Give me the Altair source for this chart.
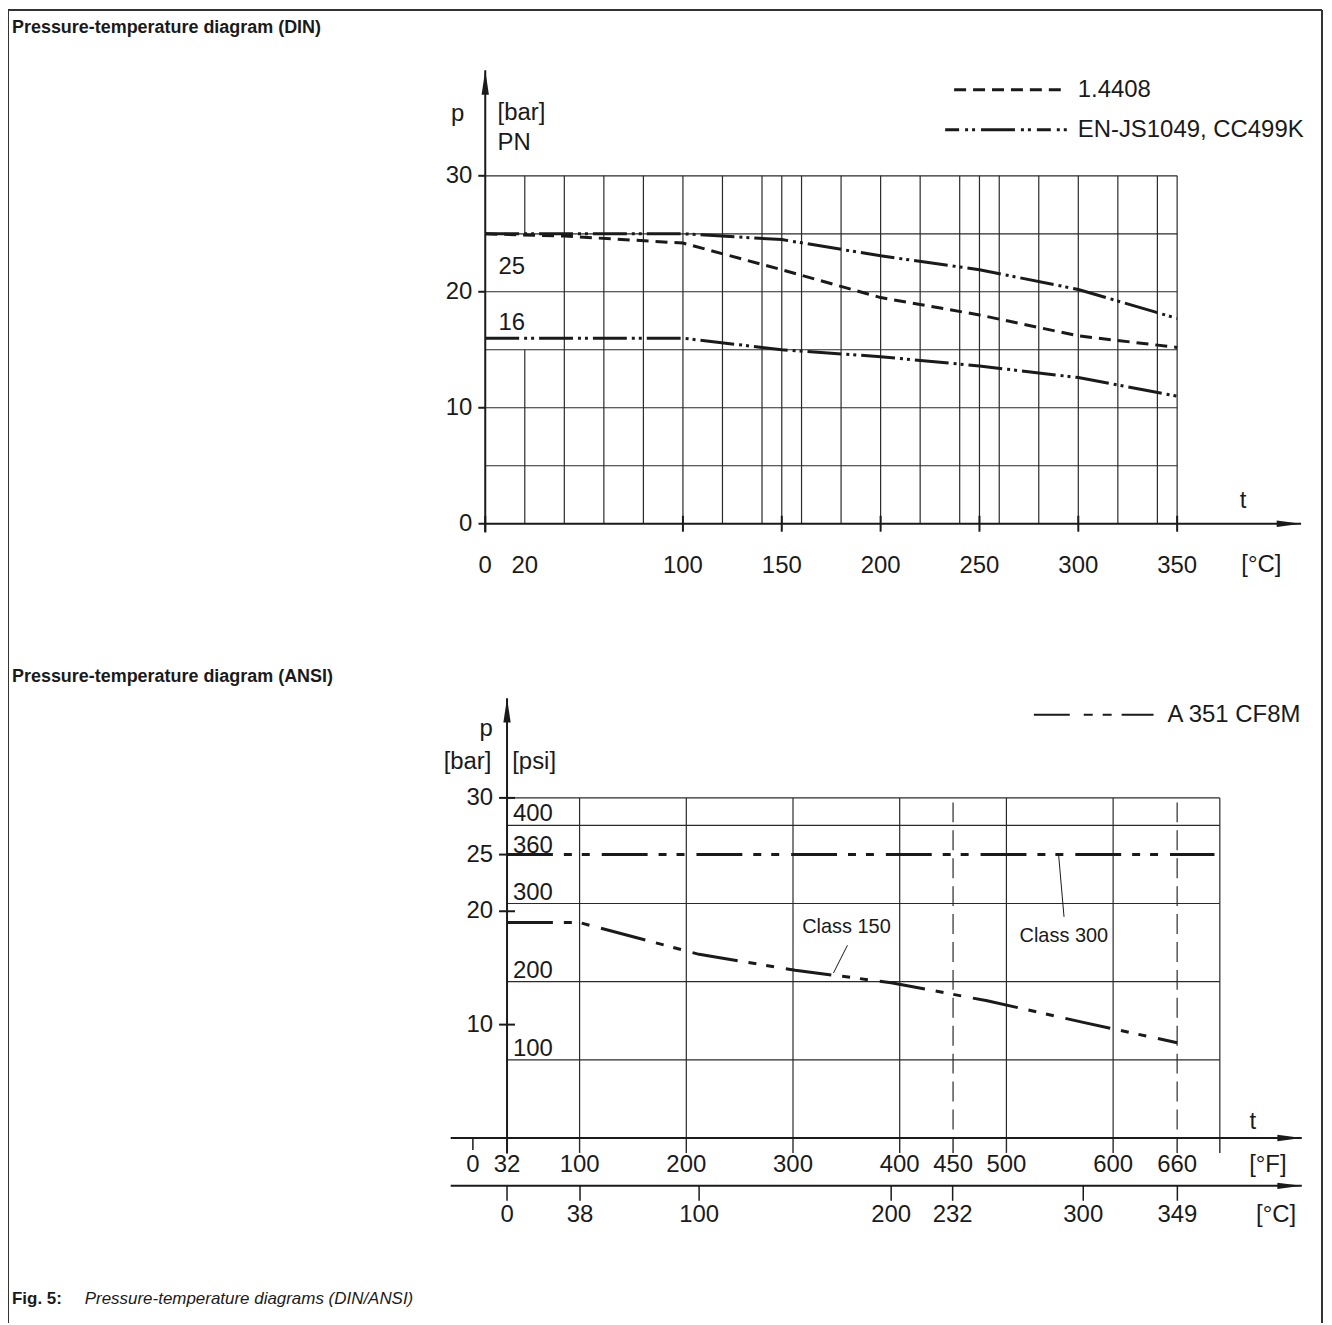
import altair as alt
import pandas as pd

# ---------------- data ----------------
din_title = "Pressure-temperature diagram (DIN)"
ansi_title = "Pressure-temperature diagram (ANSI)"
caption_bold = "Fig. 5:"
caption_text = "Pressure-temperature diagrams (DIN/ANSI)"

# DIN diagram (t in °C, p in bar)
din_hgrid_p = [5, 10, 15, 20, 25, 30]
din_vgrid_t = [20, 40, 60, 80, 100, 120, 140, 150, 160, 180, 200, 220, 240,
               250, 260, 280, 300, 320, 340, 350]
din_xlabel_t = [0, 20, 100, 150, 200, 250, 300, 350]
din_xtick_t = [0, 100, 150, 200, 250, 300, 350]
din_ylabel_p = [0, 10, 20, 30]
din_ytick_p = [10, 20, 30]

din_14408_t = [0, 40, 100, 150, 200, 250, 300, 350]
din_14408_p = [25.0, 24.8, 24.2, 21.9, 19.5, 18.0, 16.2, 15.2]
din_js_t = [0, 100, 150, 200, 250, 300, 350]
din_js_pn25 = [25.0, 25.0, 24.5, 23.1, 21.9, 20.2, 17.7]
din_js_pn16 = [16.0, 16.0, 15.0, 14.4, 13.6, 12.6, 11.0]
din_legend = ["1.4408", "EN-JS1049, CC499K"]
din_pn_labels = ["25", "16"]
din_pn_label_p = [22.1, 17.3]

# ANSI diagram (temperature in °F / °C, p in bar / psi)
PSI_PER_BAR = 14.5038
ansi_hgrid_psi = [100, 200, 300, 400]
ansi_top_bar = 30
ansi_vgrid_F = [100, 200, 300, 400, 500, 600, 700]
ansi_vdash_F = [450, 660]
ansi_F_labels = [0, 32, 100, 200, 300, 400, 450, 500, 600, 660]
ansi_C_labels = [0, 38, 100, 200, 232, 300, 349]
ansi_bar_labels = [10, 20, 25, 30]
ansi_psi_labels = [100, 200, 300, 360, 400]
class150_F = [32, 100, 212, 302, 392, 482, 572, 660]
class150_bar = [19.0, 19.0, 16.2, 14.8, 13.7, 12.1, 10.2, 8.4]
class300_F = [32, 695]
class300_bar = [25.0, 25.0]
ansi_legend = "A 351 CF8M"

# ---------------- style / layout ----------------
FONT = "Liberation Sans"
INK = "#1a1a1a"
GRID = "#2a2a2a"
W, H = 1320, 1317
M = 8  # page margin


def lin_domain(v0, p0, v1, p1, a, b):
    k = (p1 - p0) / (v1 - v0)
    return [v0 + (a + M - p0) / k, v0 + (b + M - p0) / k]


din_xs = alt.Scale(domain=lin_domain(0, 486.7, 350, 1180.7, 0, W), nice=False, zero=False)
din_ys = alt.Scale(domain=lin_domain(0, 523.3, 30, 174.3, H, 0), nice=False, zero=False)
ansi_xs = alt.Scale(domain=lin_domain(0, 474.3, 660, 1180.7, 0, W), nice=False, zero=False)
ansi_ys = alt.Scale(domain=lin_domain(0, 1139.4, 30, 798.3, H, 0), nice=False, zero=False)

UP = "M0,0L0.3,2L-0.3,2Z"
RIGHT = "M0,0L-2,-0.26L-2,0.26Z"
ARROW = 600


def C(d):
    return alt.Chart(pd.DataFrame(d))


def xq(f, sc):
    return alt.X(f"{f}:Q", scale=sc, axis=None)


def yq(f, sc):
    return alt.Y(f"{f}:Q", scale=sc, axis=None)


# ================= DIN =================
xs, ys = din_xs, din_ys
din = []
din.append(C({"p": din_hgrid_p}).transform_calculate(t0="0", t1="350")
           .mark_rule(color=GRID, strokeWidth=1.2)
           .encode(x=xq("t0", xs), x2="t1:Q", y=yq("p", ys)))
vrows = []
for t in din_vgrid_t:
    if t == 20:
        vrows += [(t, 0, 15), (t, 25, 30)]
    else:
        vrows.append((t, 0, 30))
din.append(C({"t": [r[0] for r in vrows], "a": [r[1] for r in vrows], "b": [r[2] for r in vrows]})
           .mark_rule(color=GRID, strokeWidth=1.2)
           .encode(x=xq("t", xs), y=yq("a", ys), y2="b:Q"))
# axes
din.append(C({"z": [0]}).transform_calculate(a="-0.75", b="39.1")
           .mark_rule(color=INK, strokeWidth=2)
           .encode(x=xq("z", xs), y=yq("a", ys), y2="b:Q"))
din.append(C({"z": [0]}).transform_calculate(a="-3.4", b="412.7")
           .mark_rule(color=INK, strokeWidth=2)
           .encode(y=yq("z", ys), x=xq("a", xs), x2="b:Q"))
din.append(C({"p": din_ytick_p}).transform_calculate(z="0")
           .mark_rule(color=INK, strokeWidth=2, xOffset=-7)
           .encode(x=xq("z", xs), x2="z:Q", y=yq("p", ys)))
din.append(C({"t": din_xtick_t}).transform_calculate(z="0")
           .mark_rule(color=INK, strokeWidth=2, yOffset=-8, y2Offset=8)
           .encode(x=xq("t", xs), y=yq("z", ys), y2="z:Q"))
din.append(C({"t": [0], "p": [39.1]})
           .mark_point(shape=UP, size=ARROW, filled=True, color=INK, opacity=1, strokeWidth=0)
           .encode(x=xq("t", xs), y=yq("p", ys)))
din.append(C({"t": [412.7], "p": [0]})
           .mark_point(shape=RIGHT, size=ARROW, filled=True, color=INK, opacity=1, strokeWidth=0)
           .encode(x=xq("t", xs), y=yq("p", ys)))
# tick labels
din.append(C({"p": din_ylabel_p}).transform_calculate(z="0")
           .mark_text(font=FONT, fontSize=24, color=INK, align="right", baseline="middle", dx=-13)
           .encode(x=xq("z", xs), y=yq("p", ys), text="p:Q"))
din.append(C({"t": din_xlabel_t}).transform_calculate(z="0")
           .mark_text(font=FONT, fontSize=24, color=INK, align="center", baseline="middle", dy=42)
           .encode(x=xq("t", xs), y=yq("z", ys), text="t:Q"))
# unit labels
din.append(C({"t": [-14.0, 383.3, 392.6], "p": [35.3, 2.0, -3.6], "s": ["p", "t", "[°C]"]})
           .mark_text(font=FONT, fontSize=24, color=INK, align="center", baseline="middle")
           .encode(x=xq("t", xs), y=yq("p", ys), text="s:N"))
din.append(C({"t": [6.2, 6.2], "p": [35.4, 32.8], "s": ["[bar]", "PN"]})
           .mark_text(font=FONT, fontSize=24, color=INK, align="left", baseline="middle")
           .encode(x=xq("t", xs), y=yq("p", ys), text="s:N"))
din.append(C({"t": [13.4, 13.4], "p": din_pn_label_p, "s": din_pn_labels})
           .mark_text(font=FONT, fontSize=24, color=INK, align="center", baseline="middle")
           .encode(x=xq("t", xs), y=yq("p", ys), text="s:N"))
# curves
JS_DASH = [34, 5, 3, 4, 3, 5]
din.append(C({"t": din_14408_t, "p": din_14408_p})
           .mark_line(color=INK, strokeWidth=3, strokeDash=[12, 7], strokeCap="butt")
           .encode(x=xq("t", xs), y=yq("p", ys)))
js = pd.DataFrame({"t": din_js_t * 2, "p": din_js_pn25 + din_js_pn16,
                   "pn": ["PN25"] * len(din_js_t) + ["PN16"] * len(din_js_t)})
din.append(alt.Chart(js)
           .mark_line(color=INK, strokeWidth=3, strokeDash=JS_DASH, strokeCap="butt")
           .encode(x=xq("t", xs), y=yq("p", ys), detail="pn:N"))
# legend
din.append(C({"s": [din_legend[0]]})
           .mark_rule(color=INK, strokeWidth=3, strokeDash=[12, 7], strokeCap="butt")
           .encode(x=alt.value(949), x2=alt.value(1062), y=alt.value(80)))
din.append(C({"s": [din_legend[1]]})
           .mark_rule(color=INK, strokeWidth=3, strokeDash=[14, 6, 3, 4, 3, 6, 34, 6, 3, 4, 3, 6],
                      strokeCap="butt")
           .encode(x=alt.value(940), x2=alt.value(1062), y=alt.value(120)))
din.append(C({"s": [din_legend[0]]})
           .mark_text(font=FONT, fontSize=24, color=INK, align="left", baseline="middle")
           .encode(x=alt.value(1073), y=alt.value(80), text="s:N"))
din.append(C({"s": [din_legend[1]]})
           .mark_text(font=FONT, fontSize=24, color=INK, align="left", baseline="middle")
           .encode(x=alt.value(1073), y=alt.value(120), text="s:N"))

# ================= ANSI =================
xs, ys = ansi_xs, ansi_ys
ansi = []
hg = pd.DataFrame({"b": [v / PSI_PER_BAR for v in ansi_hgrid_psi] + [ansi_top_bar]})
ansi.append(alt.Chart(hg).transform_calculate(f0="32", f1="700")
            .mark_rule(color=GRID, strokeWidth=1.2)
            .encode(x=xq("f0", xs), x2="f1:Q", y=yq("b", ys)))
ansi.append(C({"F": ansi_vgrid_F}).transform_calculate(a="0", b="30")
            .mark_rule(color=GRID, strokeWidth=1.2)
            .encode(x=xq("F", xs), y=yq("a", ys), y2="b:Q"))
ansi.append(C({"F": ansi_vdash_F}).transform_calculate(a="0", b="29.6")
            .mark_rule(color=GRID, strokeWidth=1.2, strokeDash=[20, 8])
            .encode(x=xq("F", xs), y=yq("b", ys), y2="a:Q"))
# F ticks below axis
ansi.append(C({"F": ansi_vgrid_F + ansi_vdash_F}).transform_calculate(z="0")
            .mark_rule(color=GRID, strokeWidth=1.4, y2Offset=15)
            .encode(x=xq("F", xs), y=yq("z", ys), y2="z:Q"))
ansi.append(C({"F": [0]}).transform_calculate(z="0")
            .mark_rule(color=INK, strokeWidth=1.5, y2Offset=12)
            .encode(x=xq("F", xs), y=yq("z", ys), y2="z:Q"))
# axes
ansi.append(C({"z": [32]}).transform_calculate(a="-1.37", b="38.8")
            .mark_rule(color=INK, strokeWidth=2)
            .encode(x=xq("z", xs), y=yq("a", ys), y2="b:Q"))
ansi.append(C({"z": [0]}).transform_calculate(a="-20.8", b="776.8")
            .mark_rule(color=INK, strokeWidth=2)
            .encode(y=yq("z", ys), x=xq("a", xs), x2="b:Q"))
ansi.append(C({"z": [0]}).transform_calculate(a="-20.8", b="776.8")
            .mark_rule(color=INK, strokeWidth=2, yOffset=48)
            .encode(y=yq("z", ys), x=xq("a", xs), x2="b:Q"))
cdf = pd.DataFrame({"c": ansi_C_labels})
cdf["F"] = cdf["c"] * 1.8 + 32
ansi.append(alt.Chart(cdf).transform_calculate(z="0")
            .mark_rule(color=INK, strokeWidth=1.5, yOffset=48, y2Offset=63)
            .encode(x=xq("F", xs), y=yq("z", ys), y2="z:Q"))
ansi.append(C({"b": ansi_bar_labels}).transform_calculate(z="32")
            .mark_rule(color=INK, strokeWidth=2, xOffset=-8, x2Offset=8)
            .encode(x=xq("z", xs), x2="z:Q", y=yq("b", ys)))
ansi.append(C({"F": [32], "b": [38.8]})
            .mark_point(shape=UP, size=ARROW, filled=True, color=INK, opacity=1, strokeWidth=0)
            .encode(x=xq("F", xs), y=yq("b", ys)))
ansi.append(C({"F": [776.8], "b": [0]})
            .mark_point(shape=RIGHT, size=ARROW, filled=True, color=INK, opacity=1, strokeWidth=0)
            .encode(x=xq("F", xs), y=yq("b", ys)))
ansi.append(C({"F": [776.8], "b": [0]})
            .mark_point(shape=RIGHT, size=ARROW, filled=True, color=INK, opacity=1, strokeWidth=0, yOffset=48)
            .encode(x=xq("F", xs), y=yq("b", ys)))
# labels
ansi.append(C({"F": ansi_F_labels}).transform_calculate(z="0")
            .mark_text(font=FONT, fontSize=24, color=INK, align="center", baseline="middle", dy=27)
            .encode(x=xq("F", xs), y=yq("z", ys), text="F:Q"))
ansi.append(alt.Chart(cdf).transform_calculate(z="0")
            .mark_text(font=FONT, fontSize=24, color=INK, align="center", baseline="middle", dy=77)
            .encode(x=xq("F", xs), y=yq("z", ys), text="c:Q"))
ansi.append(C({"b": ansi_bar_labels}).transform_calculate(z="32")
            .mark_text(font=FONT, fontSize=24, color=INK, align="right", baseline="middle", dx=-14)
            .encode(x=xq("z", xs), y=yq("b", ys), text="b:Q"))
psi = pd.DataFrame({"psi": ansi_psi_labels})
psi["b"] = psi["psi"] / PSI_PER_BAR
ansi.append(alt.Chart(psi).transform_calculate(z="32")
            .mark_text(font=FONT, fontSize=24, color=INK, align="left", baseline="alphabetic", dx=6, dy=-4)
            .encode(x=xq("z", xs), y=yq("b", ys), text="psi:Q"))
ansi.append(C({"F": [12.5, -5.0, 57.4, 731.0, 745.0, 752.8], "b": [36.1, 33.2, 33.2, 1.44, -2.41, -6.8],
               "s": ["p", "[bar]", "[psi]", "t", "[°F]", "[°C]"]})
            .mark_text(font=FONT, fontSize=24, color=INK, align="center", baseline="middle")
            .encode(x=xq("F", xs), y=yq("b", ys), text="s:N"))
# curves
ansi_dash = [46, 11, 8, 10, 8, 12]
ansi.append(C({"F": class150_F, "b": class150_bar})
            .mark_line(color=INK, strokeWidth=3, strokeDash=ansi_dash, strokeCap="butt")
            .encode(x=xq("F", xs), y=yq("b", ys)))
ansi.append(C({"F": class300_F, "b": class300_bar})
            .mark_line(color=INK, strokeWidth=3, strokeDash=ansi_dash, strokeCap="butt")
            .encode(x=xq("F", xs), y=yq("b", ys)))
# class annotations
ansi.append(C({"F": [350.1, 553.8], "b": [18.6, 17.8], "s": ["Class 150", "Class 300"]})
            .mark_text(font=FONT, fontSize=20, color=INK, align="center", baseline="middle")
            .encode(x=xq("F", xs), y=yq("b", ys), text="s:N"))
ansi.append(C({"F": [351.0, 548.8], "b": [17.0, 25.1], "F2": [337.9, 554.0], "b2": [14.55, 19.5]})
            .mark_rule(color=INK, strokeWidth=1)
            .encode(x=xq("F", xs), y=yq("b", ys), x2="F2:Q", y2="b2:Q"))
# legend
ansi.append(C({"s": [ansi_legend]})
            .mark_rule(color=INK, strokeWidth=2, strokeDash=[36, 14, 9, 10, 9, 10, 40], strokeCap="butt")
            .encode(x=alt.value(1029), x2=alt.value(1149), y=alt.value(707)))
ansi.append(C({"s": [ansi_legend]})
            .mark_text(font=FONT, fontSize=24, color=INK, align="left", baseline="middle")
            .encode(x=alt.value(1163), y=alt.value(707), text="s:N"))

# ================= frame =================
frame = []
frame.append(C({"s": [din_title]})
             .mark_text(font=FONT, fontSize=18, fontWeight="bold", color=INK, align="left", baseline="middle")
             .encode(x=alt.value(4), y=alt.value(18), text="s:N"))
frame.append(C({"s": [ansi_title]})
             .mark_text(font=FONT, fontSize=18, fontWeight="bold", color=INK, align="left", baseline="middle")
             .encode(x=alt.value(4), y=alt.value(669), text="s:N"))
frame.append(C({"s": [caption_bold]})
             .mark_text(font=FONT, fontSize=17, fontWeight="bold", color=INK, align="left", baseline="middle")
             .encode(x=alt.value(4), y=alt.value(1293), text="s:N"))
frame.append(C({"s": [caption_text]})
             .mark_text(font=FONT, fontSize=17, fontStyle="italic", color=INK, align="left", baseline="middle")
             .encode(x=alt.value(77), y=alt.value(1293), text="s:N"))
frame.append(C({"s": ["border"]})
             .mark_rule(color="#333333", strokeWidth=2)
             .encode(x=alt.value(0), x2=alt.value(1318), y=alt.value(0)))
frame.append(C({"s": ["border"]})
             .mark_rule(color="#333333", strokeWidth=2)
             .encode(x=alt.value(0), y=alt.value(0), y2=alt.value(H)))
frame.append(C({"s": ["border"]})
             .mark_rule(color="#333333", strokeWidth=2)
             .encode(x=alt.value(1318), y=alt.value(0), y2=alt.value(H)))

chart = (
    alt.layer(alt.layer(*din), alt.layer(*ansi), alt.layer(*frame))
    .resolve_scale(x="independent", y="independent")
    .properties(width=W, height=H, padding=0, autosize=alt.AutoSizeParams(type="none"), background="white")
    .configure_view(stroke=None)
)

chart.save("out.html", embed_options={"renderer": "svg", "actions": False})
